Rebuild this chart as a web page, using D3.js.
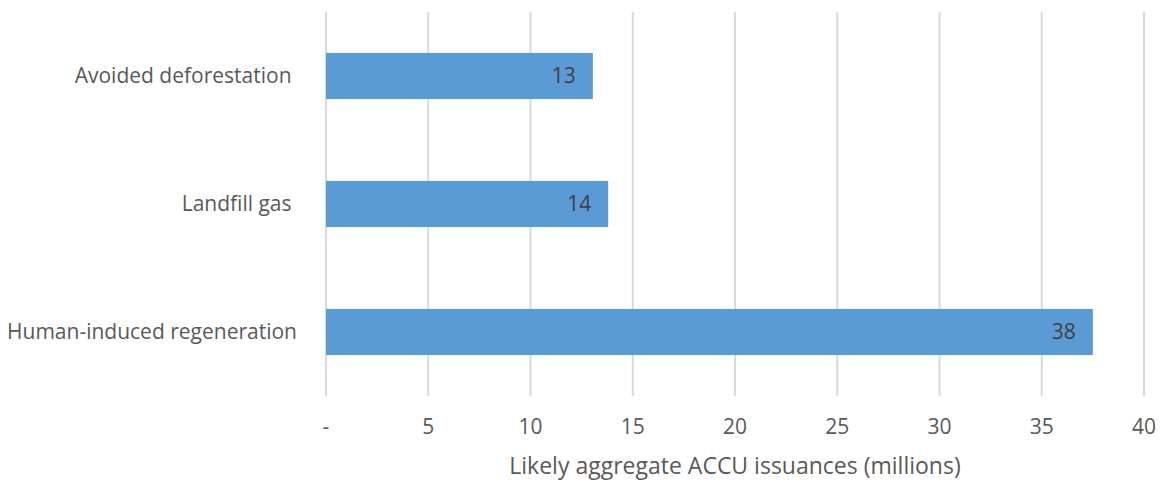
<!DOCTYPE html>
<html>
<head>
<meta charset="utf-8">
<script src="https://cdn.jsdelivr.net/npm/d3@7/dist/d3.min.js"></script>
<style>
  html, body { margin: 0; padding: 0; background: #fff; }
  svg { display: block; font-family: "Open Sans", "Noto Sans", sans-serif; }
  text { white-space: pre; }
</style>
</head>
<body>
<svg id="chart" width="1161" height="483"></svg>
<script>
// Project categories (top to bottom) and likely issuances in millions of ACCUs
const categories = ["Avoided deforestation ", "Landfill gas ", "Human-induced regeneration"];
const issuances = [13.05, 13.8, 37.5];
const tickValues = [0, 5, 10, 15, 20, 25, 30, 35, 40];
const tickLabels = ["-", "5", "10", "15", "20", "25", "30", "35", "40"];
const axisTitle = "Likely aggregate ACCU issuances (millions)";

const svg = d3.select("#chart");
const margin = { left: 326, right: 17, top: 12, bottom: 87 };
const W = 1161, H = 483;

const x = d3.scaleLinear().domain([0, 40]).range([margin.left, W - margin.right]);
const y = d3.scaleBand().domain(categories).range([margin.top, H - margin.bottom])
  .paddingInner(0.64).paddingOuter(0.32);

// vertical gridlines
svg.append("g").selectAll("line").data(tickValues).join("line")
  .attr("x1", d => x(d)).attr("x2", d => x(d))
  .attr("y1", margin.top).attr("y2", H - margin.bottom)
  .attr("stroke", "#d9d9d9").attr("stroke-width", 2);

// bars
svg.append("g").selectAll("rect").data(categories).join("rect")
  .attr("x", x(0))
  .attr("y", d => y(d))
  .attr("width", (d, i) => x(issuances[i]) - x(0))
  .attr("height", y.bandwidth())
  .attr("fill", "#5b9bd5");

// value labels, inside end of each bar
svg.append("g").selectAll("text").data(categories).join("text")
  .attr("x", (d, i) => x(issuances[i]) - 17)
  .attr("y", d => y(d) + y.bandwidth() / 2)
  .attr("dy", "0.35em")
  .attr("text-anchor", "end")
  .attr("fill", "#404040")
  .attr("font-size", 21)
  .text((d, i) => d3.format(".0f")(issuances[i]));

// category axis labels
svg.append("g").selectAll("text").data(categories).join("text")
  .attr("x", 297)
  .attr("y", d => y(d) + y.bandwidth() / 2)
  .attr("dy", "0.35em")
  .attr("text-anchor", "end")
  .attr("fill", "#595959")
  .attr("font-size", 21)
  .text(d => d);

// value axis tick labels
svg.append("g").selectAll("text").data(tickValues).join("text")
  .attr("x", d => x(d))
  .attr("y", 427)
  .attr("dy", "0.35em")
  .attr("text-anchor", "middle")
  .attr("fill", "#595959")
  .attr("font-size", 21)
  .text((d, i) => tickLabels[i]);

// axis title
svg.append("text")
  .attr("x", (x(0) + x(40)) / 2)
  .attr("y", 466)
  .attr("dy", "0.35em")
  .attr("text-anchor", "middle")
  .attr("fill", "#595959")
  .attr("font-size", 23)
  .text(axisTitle);
</script>
</body>
</html>
